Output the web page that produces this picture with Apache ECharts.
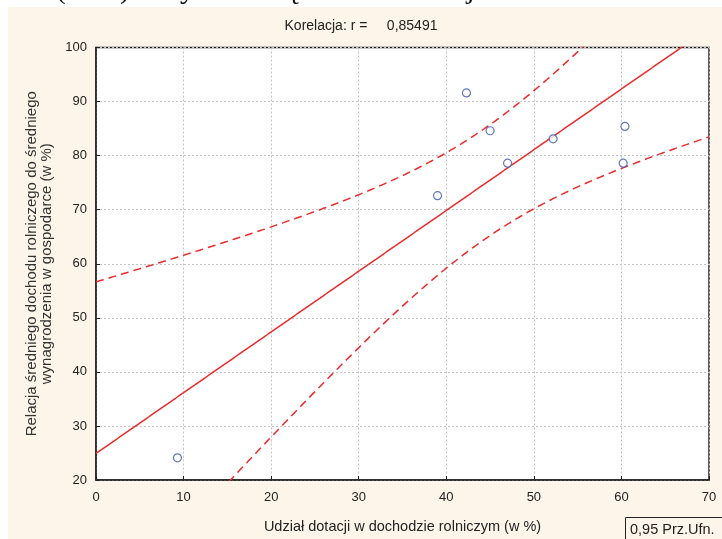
<!DOCTYPE html>
<html>
<head>
<meta charset="utf-8">
<script src="https://cdn.jsdelivr.net/npm/echarts@6/dist/echarts.min.js"></script>
<style>
html,body{margin:0;padding:0;background:#ffffff;}
#c{width:722px;height:539px;}
</style>
</head>
<body>
<div id="c"></div>
<script>
// Observed data points (x: udział dotacji %, y: relacja dochodu %)
const xValues = [9.3, 39.0, 42.3, 45.0, 47.0, 52.2, 60.4, 60.2];
const yValues = [24.1, 72.6, 91.6, 84.6, 78.6, 83.1, 85.4, 78.6];
const xTicks = [0, 10, 20, 30, 40, 50, 60, 70];
const yTicks = [20, 30, 40, 50, 60, 70, 80, 90, 100];
const titleText = 'Korelacja: r =     0,85491';
const xName = 'Udział dotacji w dochodzie rolniczym (w %)';
const yName = 'Relacja średniego dochodu rolniczego do średniego\nwynagrodzenia w gospodarce (w %)';
const legendText = '0,95 Prz.Ufn.';
const tCrit = 2.447; // t(0.975, n-2=6)

// Least-squares fit and 95% confidence band computed from the observed points
const n = xValues.length;
const mx = xValues.reduce((a, b) => a + b, 0) / n;
const my = yValues.reduce((a, b) => a + b, 0) / n;
let sxx = 0, sxy = 0, syy = 0;
for (let i = 0; i < n; i++) {
  sxx += (xValues[i] - mx) ** 2;
  sxy += (xValues[i] - mx) * (yValues[i] - my);
  syy += (yValues[i] - my) ** 2;
}
const slope = sxy / sxx;
const intercept = my - slope * mx;
const s = Math.sqrt((syy - slope * sxy) / (n - 2));
const fitLine = [], upper = [], lower = [];
for (let k = 0; k <= 280; k++) {
  const x = k * 0.25;
  const yh = intercept + slope * x;
  const h = tCrit * s * Math.sqrt(1 / n + (x - mx) ** 2 / sxx);
  fitLine.push([x, yh]);
  upper.push([x, yh + h]);
  lower.push([x, yh - h]);
}

const chart = echarts.init(document.getElementById('c'), null, {renderer: 'canvas'});
const red = '#ee2a2a';
const font = 'Liberation Sans, Arial, sans-serif';
chart.setOption({
  backgroundColor: '#ffffff',
  animation: false,
  graphic: [
    {type: 'rect', z: -10, shape: {x: 8, y: 7, width: 714, height: 532}, style: {fill: '#fdf5e9'}},
    {type: 'text', z: -5, left: 0, top: -25,
      style: {text: 'ości (w %) a wysokością udziału dotacji w dochodzie rolniczym', font: '30px "Liberation Serif", serif', fill: '#111'}},
    {type: 'text', left: 'center', top: 19, style: {text: titleText, font: '14px ' + font, fill: '#222'}},
    {type: 'rect', shape: {x: 625.5, y: 517.5, width: 110, height: 30}, style: {fill: '#fdf5e9', stroke: '#222', lineWidth: 1}},
    {type: 'text', left: 630, top: 522, style: {text: legendText, font: '14.5px ' + font, fill: '#222'}}
  ],
  grid: {left: 96, right: 13, top: 47.5, bottom: 59, show: true, backgroundColor: '#ffffff', borderColor: '#222', borderWidth: 1.5},
  xAxis: {
    type: 'value', min: 0, max: 70, interval: 10,
    name: xName, nameLocation: 'middle', nameGap: 39,
    nameTextStyle: {fontFamily: font, fontSize: 14.5, color: '#222'},
    axisLine: {show: true, onZero: false, lineStyle: {color: '#222', width: 1.5}},
    axisTick: {show: true, inside: true, length: 4, lineStyle: {color: '#222'}},
    axisLabel: {fontFamily: font, fontSize: 13, color: '#222', margin: 11, formatter: v => xTicks.includes(v) ? String(v) : ''},
    splitLine: {show: true, lineStyle: {color: '#c4c4c4', type: [2, 2], width: 1}}
  },
  yAxis: {
    type: 'value', min: 20, max: 100, interval: 10,
    name: yName, nameLocation: 'middle', nameGap: 39,
    nameTextStyle: {fontFamily: font, fontSize: 15, color: '#333', lineHeight: 15},
    axisLine: {show: true, onZero: false, lineStyle: {color: '#222', width: 1.5}},
    axisTick: {show: true, inside: true, length: 4, lineStyle: {color: '#222'}},
    axisLabel: {fontFamily: font, fontSize: 13, color: '#222', margin: 9, formatter: v => yTicks.includes(v) ? String(v) : ''},
    splitLine: {show: true, lineStyle: {color: '#c4c4c4', type: [2, 2], width: 1}}
  },
  series: [
    {type: 'line', data: fitLine, showSymbol: false, clip: true, lineStyle: {color: red, width: 1.5}, z: 3},
    {type: 'line', data: upper, showSymbol: false, clip: true, lineStyle: {color: red, width: 1.5, type: [8, 5]}, z: 3},
    {type: 'line', data: lower, showSymbol: false, clip: true, lineStyle: {color: red, width: 1.5, type: [8, 5]}, z: 3},
    {type: 'scatter', data: xValues.map((x, i) => [x, yValues[i]]), symbol: 'circle', symbolSize: 8,
      itemStyle: {color: '#ffffff', borderColor: '#3a56b0', borderWidth: 1.2}, z: 4}
  ]
});
</script>
</body>
</html>
